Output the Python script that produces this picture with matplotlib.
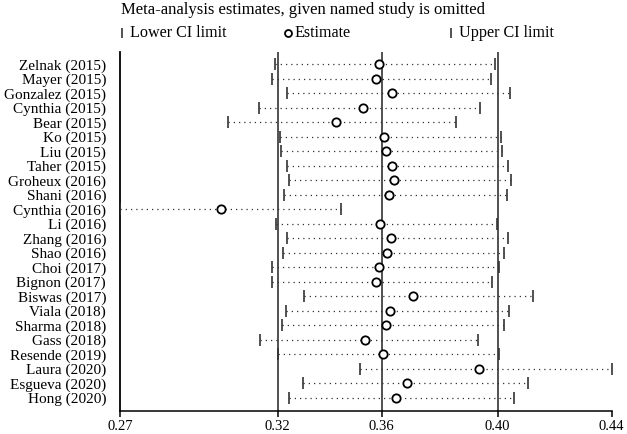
import matplotlib
matplotlib.use("Agg")
import matplotlib.pyplot as plt
from matplotlib.lines import Line2D

plt.rcParams['font.family'] = ['Liberation Serif', 'DejaVu Serif']

# studies (top to bottom) and the leave-one-out estimates
studies = ['Zelnak (2015)', 'Mayer (2015)', 'Gonzalez (2015)', 'Cynthia (2015)', 'Bear (2015)',
           'Ko (2015)', 'Liu (2015)', 'Taher (2015)', 'Groheux (2016)', 'Shani (2016)',
           'Cynthia (2016)', 'Li (2016)', 'Zhang (2016)', 'Shao (2016)', 'Choi (2017)',
           'Bignon (2017)', 'Biswas (2017)', 'Viala (2018)', 'Sharma (2018)', 'Gass (2018)',
           'Resende (2019)', 'Laura (2020)', 'Esgueva (2020)', 'Hong (2020)']
lower = [0.3231, 0.3221, 0.3271, 0.3175, 0.3069, 0.3246, 0.3249, 0.3270, 0.3279, 0.3260,
         0.2700, 0.3232, 0.3271, 0.3256, 0.3219, 0.3219, 0.3330, 0.3268, 0.3253, 0.3180,
         0.3240, 0.3520, 0.3326, 0.3279]
estimate = [0.3586, 0.3575, 0.3629, 0.3531, 0.3439, 0.3603, 0.3609, 0.3629, 0.3638, 0.3619,
            0.3045, 0.3589, 0.3626, 0.3612, 0.3587, 0.3574, 0.3701, 0.3624, 0.3609, 0.3537,
            0.3600, 0.3926, 0.3680, 0.3643]
upper = [0.3981, 0.3970, 0.4032, 0.3931, 0.3849, 0.4003, 0.4006, 0.4026, 0.4037, 0.4023,
         0.3455, 0.3989, 0.4028, 0.4012, 0.3997, 0.3973, 0.4112, 0.4029, 0.4014, 0.3924,
         0.3996, 0.4381, 0.4094, 0.4046]

# axis ticks: min, overall lower CI, estimate, upper CI, max
tick_vals = [0.2700, 0.3239, 0.3595, 0.3991, 0.4381]
tick_labels = ['0.27', '0.32', '0.36', '0.40', '0.44']

fig = plt.figure(figsize=(6.27, 4.34), dpi=100)
ax = fig.add_axes([120 / 627, 23 / 434, 491.7 / 627, 359 / 434])

n = len(studies)
ypos = [n - 1 - i for i in range(n)]

for v in tick_vals[1:4]:
    ax.axvline(v, color='#222222', lw=1.1, zorder=1)

for y, lo, est, up in zip(ypos, lower, estimate, upper):
    ax.plot([lo, up], [y, y], color='#333333', lw=0.9, linestyle=(0, (1, 3.2)), zorder=2)
ax.plot(lower, ypos, linestyle='none', marker='|', markersize=8, mew=1.2, color='#333333', zorder=3)
ax.plot(upper, ypos, linestyle='none', marker='|', markersize=8, mew=1.2, color='#333333', zorder=3)
ax.plot(estimate, ypos, linestyle='none', marker='o', markersize=6, mew=1.3,
        mfc='white', mec='black', zorder=4)

ax.set_xlim(tick_vals[0], tick_vals[-1])
ax.set_ylim(-0.92, n - 1 + 0.85)
ax.set_xticks(tick_vals)
ax.set_xticklabels(tick_labels, fontsize=10.5)
ax.set_yticks(ypos)
ax.set_yticklabels(studies, fontsize=11)
ax.tick_params(axis='y', length=0, pad=10)
ax.tick_params(axis='x', length=4.5, width=1.1, pad=2, direction='out')
ax.spines['top'].set_visible(False)
ax.spines['right'].set_visible(False)
ax.spines['left'].set_linewidth(1.3)
ax.spines['bottom'].set_linewidth(1.1)

# title and legend on top
fig.text(303 / 627, 1 - 10 / 434, 'Meta-analysis estimates, given named study is omitted',
         ha='center', va='center', fontsize=12)
ly = 1 - 33 / 434
fig.add_artist(Line2D([122 / 627], [ly], marker='|', markersize=6.5, mew=1.2, color='#333333',
                      transform=fig.transFigure))
fig.text(130 / 627, ly, 'Lower CI limit', ha='left', va='center', fontsize=11.6)
fig.add_artist(Line2D([288 / 627], [ly], marker='o', markersize=5, mew=1.3, mfc='white',
                      mec='black', transform=fig.transFigure))
fig.text(294 / 627, ly, 'Estimate', ha='left', va='center', fontsize=11.6)
fig.add_artist(Line2D([451 / 627], [ly], marker='|', markersize=6.5, mew=1.2, color='#333333',
                      transform=fig.transFigure))
fig.text(459 / 627, ly, 'Upper CI limit', ha='left', va='center', fontsize=11.6)

fig.savefig('out.png', dpi=100)
